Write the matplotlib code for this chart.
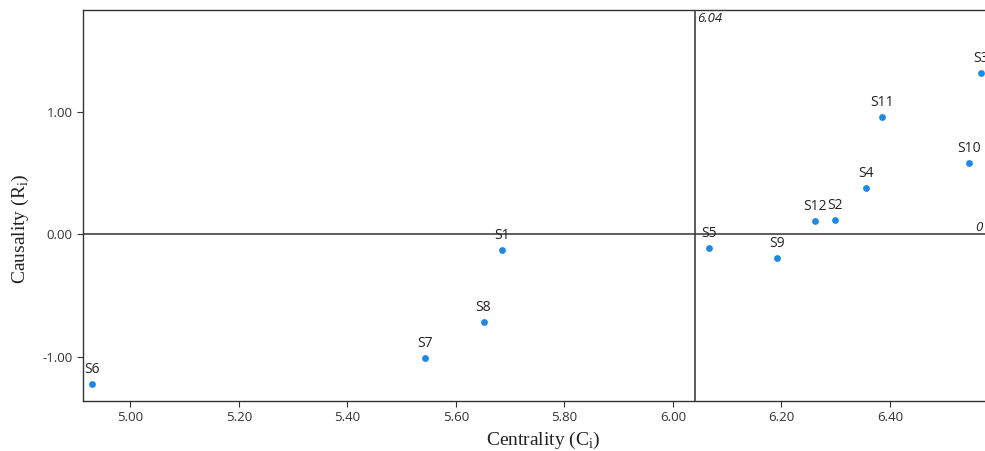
import matplotlib.pyplot as plt

# data
names = ["S1", "S2", "S3", "S4", "S5", "S6", "S7", "S8", "S9", "S10", "S11", "S12"]
centrality = [5.685, 6.298, 6.568, 6.355, 6.067, 4.930, 5.544, 5.651, 6.192, 6.546, 6.385, 6.262]
causality = [-0.128, 0.117, 1.314, 0.378, -0.112, -1.224, -1.012, -0.716, -0.193, 0.582, 0.955, 0.109]
x_ticks = [5.00, 5.20, 5.40, 5.60, 5.80, 6.00, 6.20, 6.40]
y_ticks = [-1.00, 0.00, 1.00]
mean_c = 6.04

plt.rcParams['mathtext.fontset'] = 'custom'
plt.rcParams['mathtext.rm'] = 'Liberation Serif'

fig = plt.figure(figsize=(9.85, 4.51), dpi=100)
ax = fig.add_axes([83 / 985, 1 - 401 / 451, 1 - 83 / 985, 391 / 451])

ax.scatter(centrality, causality, s=24, color='#1e88e5', zorder=3, linewidths=0)
for n, cx, cy in zip(names, centrality, causality):
    ax.annotate(n, (cx, cy), xytext=(0, 5), textcoords='offset points',
                ha='center', va='bottom', fontsize=10, color='#222222',
                family='Open Sans')

# mean centrality and zero causality lines
ax.axvline(mean_c, color='#333333', lw=1.1, zorder=1)
ax.axhline(0, color='#333333', lw=1.1, zorder=1)
ax.text(mean_c + 0.005, 1.81, "6.04", style='italic', fontsize=9.5, ha='left', va='top',
        color='#222222', family='Open Sans')
ax.text(6.57, 0.0, "0", style='italic', fontsize=9.5, ha='right', va='bottom',
        color='#222222', family='Open Sans')

ax.set_xlim(4.913, 6.575)
ax.set_ylim(-1.363, 1.83)
ax.set_xticks(x_ticks)
ax.set_xticklabels([f"{v:.2f}" for v in x_ticks])
ax.set_yticks(y_ticks)
ax.set_yticklabels([f"{v:.2f}" for v in y_ticks])
for lab in ax.get_xticklabels() + ax.get_yticklabels():
    lab.set_family('Open Sans')
    lab.set_fontsize(9.5)
    lab.set_color('#333333')
ax.tick_params(length=4, width=0.8, color='#333333')

for s in ['left', 'bottom', 'top']:
    ax.spines[s].set_color('#333333')
    ax.spines[s].set_linewidth(1.0)
ax.spines['right'].set_visible(False)

ax.set_xlabel(r"Centrality (C$_\mathrm{i}$)", family='Liberation Serif', fontsize=14, color='#222222')
ax.set_ylabel(r"Causality (R$_\mathrm{i}$)", family='Liberation Serif', fontsize=14, color='#222222')
ax.xaxis.set_label_coords(0.51, -0.075)
ax.yaxis.set_label_coords(-0.058, 0.44)

fig.savefig("out.png", dpi=100)
